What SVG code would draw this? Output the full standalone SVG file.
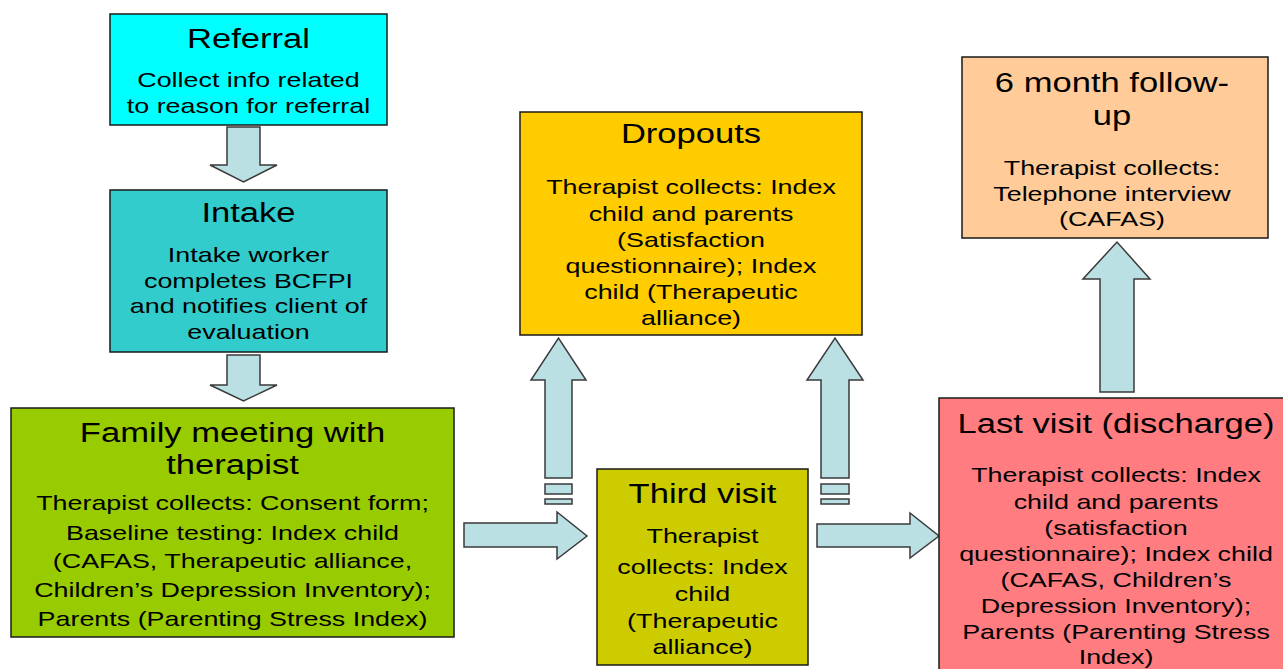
<svg xmlns="http://www.w3.org/2000/svg" width="1283" height="669" viewBox="0 0 1283 669">
<style>
.box{stroke:#1a1a1a;stroke-width:1.5}
.arr{fill:#BBE0E3;stroke:#3a3a3a;stroke-width:1.5;stroke-linejoin:miter}
text{font-family:"Liberation Sans",Arial,sans-serif;fill:#000;text-anchor:middle}
.t{font-size:27px}
.b{font-size:21px}
</style>
<rect width="1283" height="669" fill="#fff"/>
<g id="connectors">
<polygon class="arr" points="227,127 260,127 260,165 277,165 243.5,182 210,165 227,165"/>
<polygon class="arr" points="227,355 260,355 260,385 277,385 243.5,401 210,385 227,385"/>
<polygon class="arr" points="464,523 557,523 557,512 587,536 557,559 557,547 464,547"/>
<polygon class="arr" points="817,524 910,524 910,513 939,536 910,558 910,547 817,547"/>
<polygon class="arr" points="545,478 545,380 531,380 558.5,338 586,380 572,380 572,478"/>
<rect class="arr" x="545" y="484" width="27" height="10"/>
<rect class="arr" x="545" y="499" width="27" height="5"/>
<polygon class="arr" points="821,478 821,380 807,380 835,338 863,380 849,380 849,478"/>
<rect class="arr" x="821" y="484" width="28" height="10"/>
<rect class="arr" x="821" y="499" width="28" height="5"/>
<polygon class="arr" points="1100,392 1100,279 1083,279 1117,242 1150,279 1134,279 1134,392"/>
</g>
<g id="referral">
<rect class="box" x="110" y="14" width="277" height="111" fill="#00FFFF"/>
<g transform="translate(248.5,0) scale(1.28,1)">
<text class="t" x="0" y="48">Referral</text>
<text class="b" x="0" y="87">Collect info related</text>
<text class="b" x="0" y="113">to reason for referral</text>
</g>
</g>
<g id="intake">
<rect class="box" x="110" y="190" width="277" height="162" fill="#33CCCC"/>
<g transform="translate(248.5,0) scale(1.28,1)">
<text class="t" x="0" y="222">Intake</text>
<text class="b" x="0" y="262">Intake worker</text>
<text class="b" x="0" y="288">completes BCFPI</text>
<text class="b" x="0" y="313">and notifies client of</text>
<text class="b" x="0" y="339">evaluation</text>
</g>
</g>
<g id="family">
<rect class="box" x="11" y="408" width="443" height="229" fill="#99CC00"/>
<g transform="translate(232.5,0) scale(1.28,1)">
<text class="t" x="0" y="442">Family meeting with</text>
<text class="t" x="0" y="474">therapist</text>
<text class="b" x="0" y="510">Therapist collects: Consent form;</text>
<text class="b" x="0" y="540">Baseline testing: Index child</text>
<text class="b" x="0" y="568">(CAFAS, Therapeutic alliance,</text>
<text class="b" x="0" y="597">Children’s Depression Inventory);</text>
<text class="b" x="0" y="626">Parents (Parenting Stress Index)</text>
</g>
</g>
<g id="dropouts">
<rect class="box" x="520" y="112" width="342" height="223" fill="#FFCC00"/>
<g transform="translate(691,0) scale(1.28,1)">
<text class="t" x="0" y="143">Dropouts</text>
<text class="b" x="0" y="194">Therapist collects: Index</text>
<text class="b" x="0" y="221">child and parents</text>
<text class="b" x="0" y="247">(Satisfaction</text>
<text class="b" x="0" y="273">questionnaire); Index</text>
<text class="b" x="0" y="299">child (Therapeutic</text>
<text class="b" x="0" y="325">alliance)</text>
</g>
</g>
<g id="third-visit">
<rect class="box" x="597" y="469" width="211" height="196" fill="#CCCC00"/>
<g transform="translate(702.5,0) scale(1.28,1)">
<text class="t" x="0" y="503">Third visit</text>
<text class="b" x="0" y="543">Therapist</text>
<text class="b" x="0" y="574">collects: Index</text>
<text class="b" x="0" y="601">child</text>
<text class="b" x="0" y="628">(Therapeutic</text>
<text class="b" x="0" y="654">alliance)</text>
</g>
</g>
<g id="last-visit">
<rect class="box" x="939" y="398" width="360" height="280" fill="#FF7C80"/>
<g transform="translate(1116,0) scale(1.28,1)">
<text class="t" x="0" y="433">Last visit (discharge)</text>
<text class="b" x="0" y="482">Therapist collects: Index</text>
<text class="b" x="0" y="509">child and parents</text>
<text class="b" x="0" y="535">(satisfaction</text>
<text class="b" x="0" y="561">questionnaire); Index child</text>
<text class="b" x="0" y="587">(CAFAS, Children’s</text>
<text class="b" x="0" y="613">Depression Inventory);</text>
<text class="b" x="0" y="639">Parents (Parenting Stress</text>
<text class="b" x="0" y="664">Index)</text>
</g>
</g>
<g id="followup">
<rect class="box" x="962" y="57" width="306" height="181" fill="#FFCC99"/>
<g transform="translate(1112,0) scale(1.28,1)">
<text class="t" x="0" y="92">6 month follow-</text>
<text class="t" x="0" y="125">up</text>
<text class="b" x="0" y="175">Therapist collects:</text>
<text class="b" x="0" y="201">Telephone interview</text>
<text class="b" x="0" y="226">(CAFAS)</text>
</g>
</g>
</svg>
